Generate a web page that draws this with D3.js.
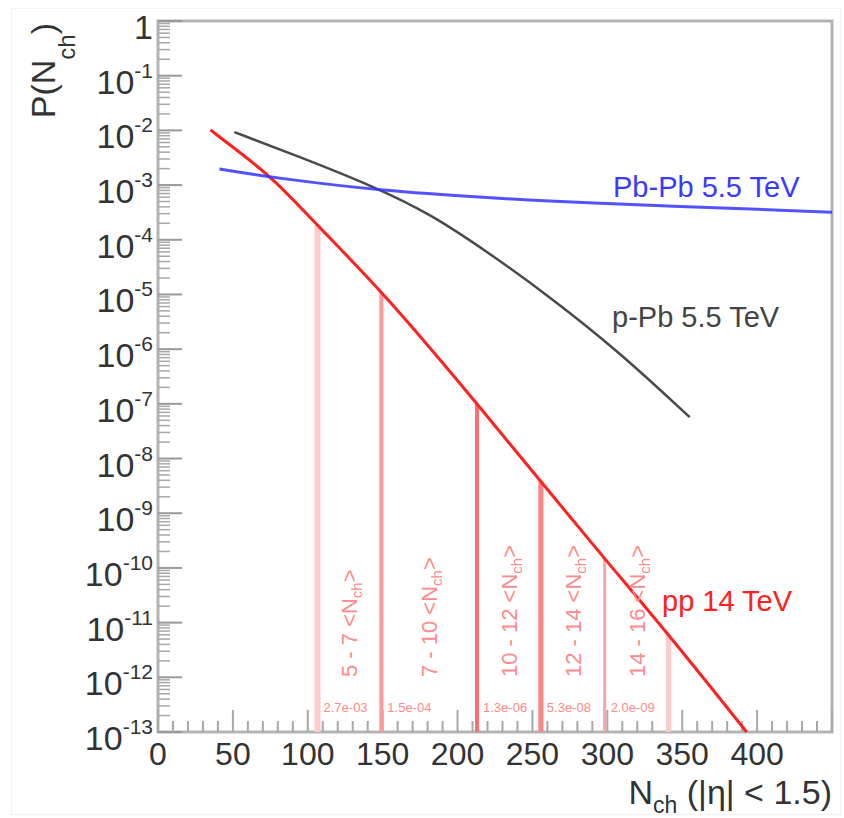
<!DOCTYPE html>
<html>
<head>
<meta charset="utf-8">
<script src="https://cdn.jsdelivr.net/npm/d3@7"></script>
<style>
  body { margin: 0; background: #fff; }
  text { font-family: 'Liberation Sans', Arial, Helvetica, sans-serif; }
</style>
</head>
<body>
<div id="chart"></div>
<script>
var width = 844;
var height = 818;
var frame = { left: 158, right: 832, top: 21, bottom: 732 };

// multiplicity distributions
var ppN = [35, 55, 78, 108, 152, 215, 257, 300, 340, 393];
var ppP = [1.02e-2, 3.9e-3, 1.24e-3, 1.64e-4, 9.8e-6, 8.7e-8, 3.4e-9, 1.28e-10, 6.5e-12, 1e-13];

var pPbN = [51, 95, 145, 182, 222, 262, 308, 355];
var pPbP = [9.3e-3, 3.26e-3, 9.2e-4, 2.96e-4, 5.5e-5, 8.9e-6, 8.9e-7, 5.7e-8];

var PbPbN = [41, 78, 150, 225, 268, 450];
var PbPbP = [1.97e-3, 1.35e-3, 7.8e-4, 5.8e-4, 4.9e-4, 3.2e-4];

// bins in units of <Nch>
var meanNch = 21.3;
var binEdges = [5, 7, 10, 12, 14, 16];
var binLabels = ['5 - 7', '7 - 10', '10 - 12', '12 - 14', '14 - 16'];
var binProb = ['2.7e-03', '1.5e-04', '1.3e-06', '5.3e-08', '2.0e-09'];

var xTicks = [0, 50, 100, 150, 200, 250, 300, 350, 400];
var yExponents = [0, -1, -2, -3, -4, -5, -6, -7, -8, -9, -10, -11, -12, -13];

var edgeColors = ['#ffcaca', '#ff9a9a', '#ff6e6e', '#ff8585', '#ffa4a4', '#ffcaca'];
var edgeWidths = [6, 4, 4, 5, 3, 5];

var svg = d3.select('#chart').append('svg')
  .attr('width', width)
  .attr('height', height);

var x = d3.scaleLinear().domain([0, 450]).range([frame.left, frame.right]);
var y = d3.scaleLog().domain([1, 1e-13]).range([frame.top, frame.bottom]);

svg.append('rect')
  .attr('x', 11.5).attr('y', 8.5)
  .attr('width', 829).attr('height', 806)
  .attr('fill', 'none')
  .attr('stroke', '#f2f2f2');

// frame
svg.append('rect')
  .attr('x', frame.left).attr('y', frame.top)
  .attr('width', frame.right - frame.left)
  .attr('height', frame.bottom - frame.top)
  .attr('fill', 'none')
  .attr('stroke', '#b4b4b4')
  .attr('stroke-width', 3);

// y ticks
var minor = [];
yExponents.forEach(function(e) {
  if (e <= -13) return;
  for (var k = 2; k <= 9; k++) minor.push(k * Math.pow(10, e - 1));
});

svg.append('g').selectAll('line')
  .data(minor)
  .enter().append('line')
  .attr('x1', frame.left).attr('x2', frame.left + 12)
  .attr('y1', function(d) { return y(d); })
  .attr('y2', function(d) { return y(d); })
  .attr('stroke', '#a8a8a8')
  .attr('stroke-width', 1.5);

svg.append('g').selectAll('line')
  .data(yExponents)
  .enter().append('line')
  .attr('x1', frame.left).attr('x2', frame.left + 24)
  .attr('y1', function(d) { return y(Math.pow(10, d)); })
  .attr('y2', function(d) { return y(Math.pow(10, d)); })
  .attr('stroke', '#999')
  .attr('stroke-width', 2);

var yLab = svg.append('g').selectAll('text')
  .data(yExponents)
  .enter().append('text')
  .attr('x', 153)
  .attr('y', function(d) { return y(Math.pow(10, d)) + 18; })
  .attr('text-anchor', 'end')
  .attr('fill', '#333')
  .attr('font-size', 34);

yLab.each(function(d) {
  var t = d3.select(this);
  if (d === 0) {
    t.text('1');
    return;
  }
  t.append('tspan').text('10');
  t.append('tspan')
    .attr('dy', -16)
    .attr('font-size', 21)
    .text('-' + (-d));
});

// x ticks
svg.append('g').selectAll('line')
  .data(d3.range(0, 451, 10))
  .enter().append('line')
  .attr('x1', function(d) { return x(d); })
  .attr('x2', function(d) { return x(d); })
  .attr('y1', frame.bottom)
  .attr('y2', function(d) { return d % 50 === 0 ? frame.bottom - 22 : frame.bottom - 11; })
  .attr('stroke', '#a8a8a8')
  .attr('stroke-width', 2);

svg.append('g').selectAll('text')
  .data(xTicks)
  .enter().append('text')
  .attr('x', function(d) { return x(d); })
  .attr('y', 765)
  .attr('text-anchor', 'middle')
  .attr('fill', '#333')
  .attr('font-size', 32)
  .text(function(d) { return d; });

// axis titles
var xt = svg.append('text')
  .attr('x', frame.right)
  .attr('y', 804)
  .attr('text-anchor', 'end')
  .attr('fill', '#333')
  .attr('font-size', 34);
xt.append('tspan').text('N');
xt.append('tspan').attr('dy', 9).attr('font-size', 23).text('ch');
xt.append('tspan').attr('dy', -9).text(' (|\u03b7| < 1.5)');

var yt = svg.append('text')
  .attr('transform', 'translate(55,23) rotate(-90)')
  .attr('text-anchor', 'end')
  .attr('fill', '#333')
  .attr('font-size', 34);
yt.append('tspan').text('P(N');
yt.append('tspan').attr('dy', 20).attr('font-size', 24).text('ch');
yt.append('tspan').attr('dy', -20).text(')');

// curves
var line = d3.line()
  .x(function(d) { return x(d[0]); })
  .y(function(d) { return y(d[1]); })
  .curve(d3.curveBasis);

var plot = svg.append('g');

var ppPath = plot.append('path')
  .datum(d3.zip(ppN, ppP))
  .attr('d', line)
  .attr('fill', 'none')
  .attr('stroke', '#ff2020')
  .attr('stroke-width', 3);

// y on the pp curve at a given x pixel
function ppYAt(px) {
  var node = ppPath.node();
  var len = node.getTotalLength();
  var lo = 0, hi = len;
  for (var i = 0; i < 40; i++) {
    var mid = (lo + hi) / 2;
    if (node.getPointAtLength(mid).x < px) lo = mid; else hi = mid;
  }
  return node.getPointAtLength(lo).y;
}

plot.selectAll('.edge')
  .data(binEdges)
  .enter().append('line')
  .attr('class', 'edge')
  .attr('x1', function(d) { return x(d * meanNch); })
  .attr('x2', function(d) { return x(d * meanNch); })
  .attr('y1', frame.bottom)
  .attr('y2', function(d) { return ppYAt(x(d * meanNch)); })
  .attr('stroke', function(d, i) { return edgeColors[i]; })
  .attr('stroke-width', function(d, i) { return edgeWidths[i]; });

ppPath.raise();

plot.append('path')
  .datum(d3.zip(pPbN, pPbP))
  .attr('d', line)
  .attr('fill', 'none')
  .attr('stroke', '#4a4a4a')
  .attr('stroke-width', 2.5);

plot.append('path')
  .datum(d3.zip(PbPbN, PbPbP))
  .attr('d', line)
  .attr('fill', 'none')
  .attr('stroke', '#3434ff')
  .attr('stroke-opacity', 0.85)
  .attr('stroke-width', 3);

// bin annotations
var bins = binLabels.map(function(l, i) {
  return { label: l, prob: binProb[i], lo: binEdges[i], hi: binEdges[i + 1] };
});

var rot = plot.selectAll('.binlab')
  .data(bins)
  .enter().append('text')
  .attr('class', 'binlab')
  .attr('transform', function(d) {
    var cx = (x(d.lo * meanNch) + x(d.hi * meanNch)) / 2;
    return 'translate(' + (cx + 8) + ',677) rotate(-90)';
  })
  .attr('fill', '#ff8a8a')
  .attr('font-size', 22);
rot.append('tspan').text(function(d) { return d.label + ' <N'; });
rot.append('tspan').attr('dy', 5).attr('font-size', 15).text('ch');
rot.append('tspan').attr('dy', -5).text('>');

plot.selectAll('.binprob')
  .data(bins)
  .enter().append('text')
  .attr('class', 'binprob')
  .attr('x', function(d) { return x(d.lo * meanNch) + 6; })
  .attr('y', 712)
  .attr('fill', '#ff8a8a')
  .attr('font-size', 13)
  .text(function(d) { return d.prob; });

// curve labels
svg.append('text')
  .attr('x', 613).attr('y', 197)
  .attr('fill', '#3a3aff')
  .attr('font-size', 29)
  .text('Pb-Pb 5.5 TeV');

svg.append('text')
  .attr('x', 612).attr('y', 327)
  .attr('fill', '#444')
  .attr('font-size', 29)
  .text('p-Pb 5.5 TeV');

svg.append('text')
  .attr('x', 662).attr('y', 611)
  .attr('fill', '#ff2020')
  .attr('font-size', 29)
  .text('pp 14 TeV');
</script>
</body>
</html>
